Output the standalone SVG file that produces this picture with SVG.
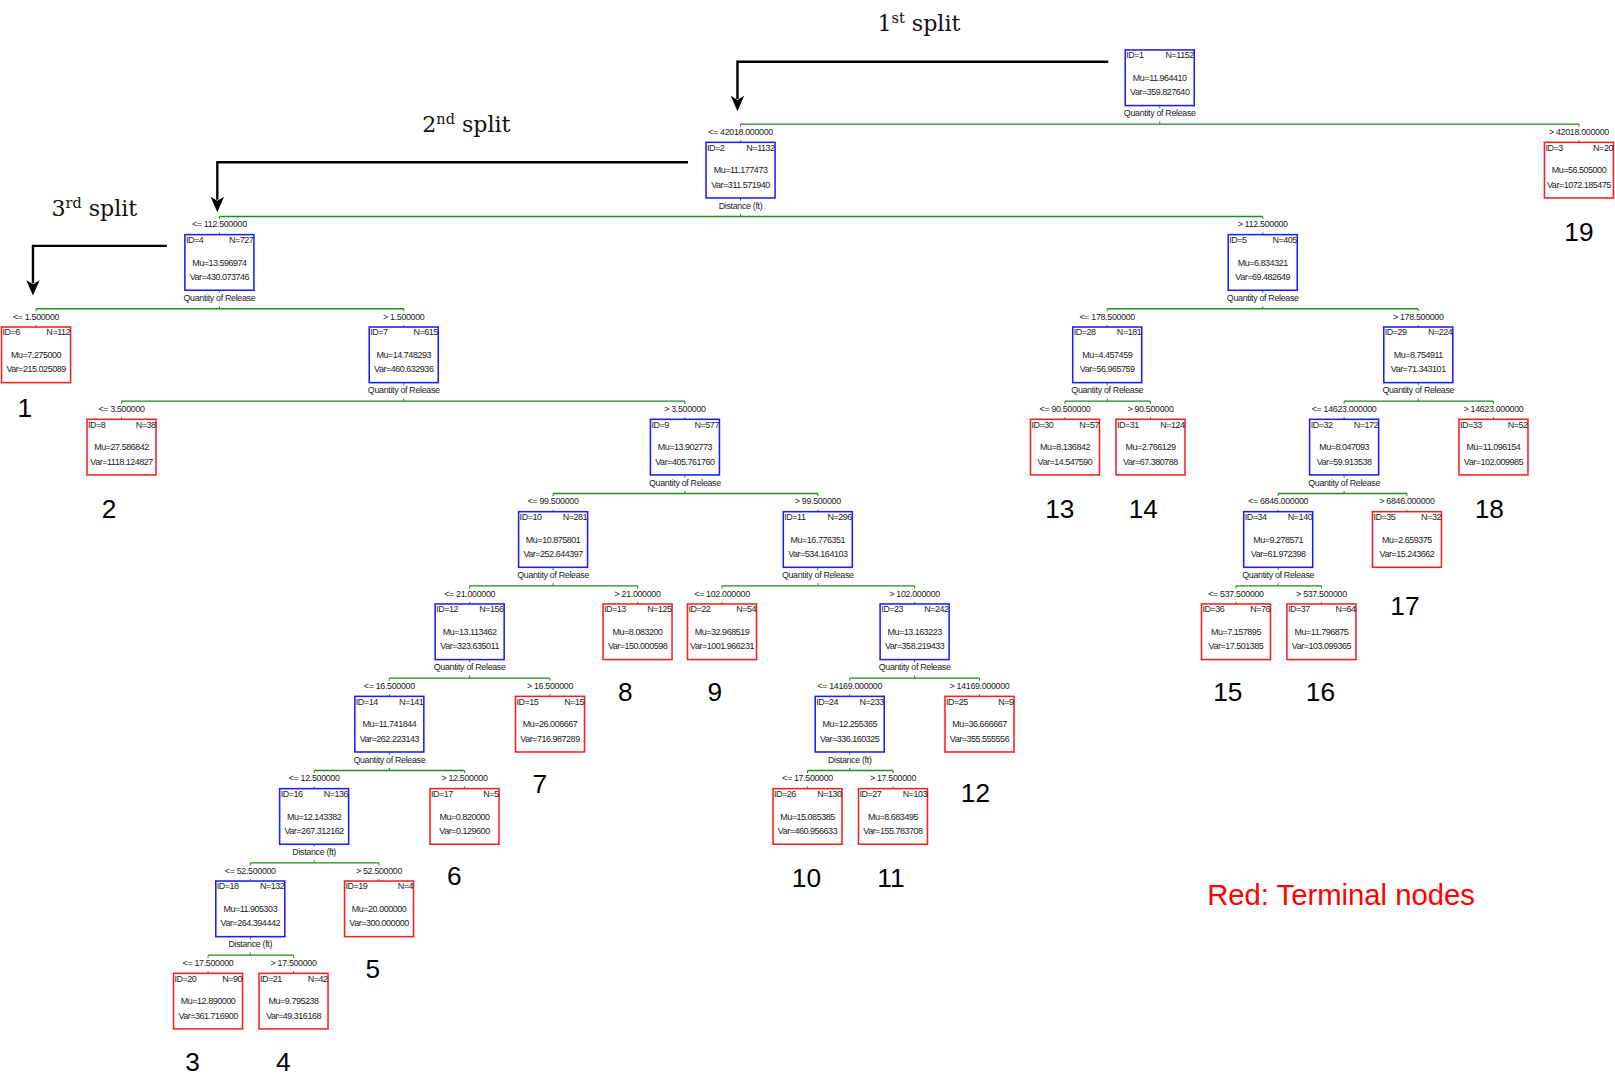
<svg xmlns="http://www.w3.org/2000/svg" width="1615" height="1074" viewBox="0 0 1615 1074">
<style>
  .bi { fill: #fff; stroke: #1c1cff; stroke-width: 1.5; }
  .bt { fill: #fff; stroke: #ff1c1c; stroke-width: 1.5; }
  text { font-family: "Liberation Sans", Arial, sans-serif; fill: #1a1a1a; }
  .t { font-size: 8.7px; letter-spacing: -0.45px; }
  .e { text-anchor: end; }
  .m { text-anchor: middle; }
  .sv { font-size: 8.6px; letter-spacing: -0.3px; text-anchor: middle; }
  .cond { font-size: 8.6px; letter-spacing: -0.3px; text-anchor: middle; }
  .edge { stroke: #1e8c1e; stroke-width: 1.3; fill: none; }
  .tick { stroke: #1e8c1e; stroke-width: 1; fill: none; }
  .arr { stroke: #000; stroke-width: 2.3; fill: none; }
  .head { fill: #000; stroke: none; }
  .split { font-family: "DejaVu Serif", "Liberation Serif", serif; font-size: 21.5px; fill: #111; }
  .sup { font-size: 14px; }
  .num { font-size: 25.5px; text-anchor: middle; fill: #000; }
  .legend { font-size: 28.4px; fill: #ff0000; }
</style>
<defs>
  <path id="ahead" d="M0,0 L-6.5,-15 L0,-11 L6.5,-15 Z"/>
</defs>
<g transform="scale(1.029974)">

<!-- split annotations -->
<g id="annotations">
  <text class="split" x="852" y="30"><tspan>1</tspan><tspan class="sup" dy="-8">st</tspan><tspan dy="8"> split</tspan></text>
  <path class="arr" d="M1076,60 H716 V96"/>
  <use href="#ahead" class="head" x="716" y="108"/>
  <text class="split" x="410" y="128"><tspan>2</tspan><tspan class="sup" dy="-8">nd</tspan><tspan dy="8"> split</tspan></text>
  <path class="arr" d="M668,157.5 H211 V194"/>
  <use href="#ahead" class="head" x="211" y="206"/>
  <text class="split" x="50" y="209.5"><tspan>3</tspan><tspan class="sup" dy="-8">rd</tspan><tspan dy="8"> split</tspan></text>
  <path class="arr" d="M162,238.7 H32 V275"/>
  <use href="#ahead" class="head" x="32" y="287"/>
</g>

<!-- tree connectors -->
<g id="connectors">
  <path class="edge" d="M719,120.5 H1533 M213,210.2 H1226 M35,299.8 H392 M1075,299.8 H1377 M118,389.5 H665 M1034,389.5 H1117 M1305,389.5 H1450 M537,479.1 H794 M1241,479.1 H1366 M456,568.8 H619 M701,568.8 H888 M1200,568.8 H1283 M378,658.4 H534 M825,658.4 H951 M305,748.1 H451 M784,748.1 H867 M243,837.7 H368 M202,927.4 H285"/>
  <path class="tick" d="
    M1126,102.5 v2.5 M1126,120.5 v-2.5 M719,120.5 v2.5 M1533,120.5 v2.5 M719,138.2 v-2 M1533,138.2 v-2
    M719,192.2 v2.5 M719,210.2 v-2.5 M213,210.2 v2.5 M1226,210.2 v2.5 M213,227.8 v-2 M1226,227.8 v-2
    M213,281.8 v2.5 M213,299.8 v-2.5 M35,299.8 v2.5 M392,299.8 v2.5 M35,317.5 v-2 M392,317.5 v-2
    M1226,281.8 v2.5 M1226,299.8 v-2.5 M1075,299.8 v2.5 M1377,299.8 v2.5 M1075,317.5 v-2 M1377,317.5 v-2
    M392,371.5 v2.5 M392,389.5 v-2.5 M118,389.5 v2.5 M665,389.5 v2.5 M118,407.1 v-2 M665,407.1 v-2
    M1075,371.5 v2.5 M1075,389.5 v-2.5 M1034,389.5 v2.5 M1117,389.5 v2.5 M1034,407.1 v-2 M1117,407.1 v-2
    M1377,371.5 v2.5 M1377,389.5 v-2.5 M1305,389.5 v2.5 M1450,389.5 v2.5 M1305,407.1 v-2 M1450,407.1 v-2
    M665,461.1 v2.5 M665,479.1 v-2.5 M537,479.1 v2.5 M794,479.1 v2.5 M537,496.8 v-2 M794,496.8 v-2
    M1305,461.1 v2.5 M1305,479.1 v-2.5 M1241,479.1 v2.5 M1366,479.1 v2.5 M1241,496.8 v-2 M1366,496.8 v-2
    M537,550.8 v2.5 M537,568.8 v-2.5 M456,568.8 v2.5 M619,568.8 v2.5 M456,586.4 v-2 M619,586.4 v-2
    M794,550.8 v2.5 M794,568.8 v-2.5 M701,568.8 v2.5 M888,568.8 v2.5 M701,586.4 v-2 M888,586.4 v-2
    M1241,550.8 v2.5 M1241,568.8 v-2.5 M1200,568.8 v2.5 M1283,568.8 v2.5 M1200,586.4 v-2 M1283,586.4 v-2
    M456,640.4 v2.5 M456,658.4 v-2.5 M378,658.4 v2.5 M534,658.4 v2.5 M378,676.1 v-2 M534,676.1 v-2
    M888,640.4 v2.5 M888,658.4 v-2.5 M825,658.4 v2.5 M951,658.4 v2.5 M825,676.1 v-2 M951,676.1 v-2
    M378,730.1 v2.5 M378,748.1 v-2.5 M305,748.1 v2.5 M451,748.1 v2.5 M305,765.7 v-2 M451,765.7 v-2
    M825,730.1 v2.5 M825,748.1 v-2.5 M784,748.1 v2.5 M867,748.1 v2.5 M784,765.7 v-2 M867,765.7 v-2
    M305,819.7 v2.5 M305,837.7 v-2.5 M243,837.7 v2.5 M368,837.7 v2.5 M243,855.4 v-2 M368,855.4 v-2
    M243,909.4 v2.5 M243,927.4 v-2.5 M202,927.4 v2.5 M285,927.4 v2.5 M202,945 v-2 M285,945 v-2"/>
</g>

<!-- nodes: each group is translated to the box's top-left corner -->
<g id="node-1" transform="translate(1092.5,48.5)">
  <rect class="bi" width="67" height="54"/>
  <text class="t" x="1" y="8">ID=1</text><text class="t e" x="66.5" y="8">N=1152</text>
  <text class="t m" x="33.5" y="30">Mu=11.964410</text><text class="t m" x="33.5" y="44">Var=359.827640</text>
  <text class="sv" x="33.5" y="64.5">Quantity of Release</text>
</g>
<g id="node-2" transform="translate(685.5,138.2)">
  <text class="cond" x="33.5" y="-7">&lt;= 42018.000000</text>
  <rect class="bi" width="67" height="54"/>
  <text class="t" x="1" y="8">ID=2</text><text class="t e" x="66.5" y="8">N=1132</text>
  <text class="t m" x="33.5" y="30">Mu=11.177473</text><text class="t m" x="33.5" y="44">Var=311.571940</text>
  <text class="sv" x="33.5" y="64.5">Distance (ft)</text>
</g>
<g id="node-3" transform="translate(1499.5,138.2)">
  <text class="cond" x="33.5" y="-7">&gt; 42018.000000</text>
  <rect class="bt" width="67" height="54"/>
  <text class="t" x="1" y="8">ID=3</text><text class="t e" x="66.5" y="8">N=20</text>
  <text class="t m" x="33.5" y="30">Mu=56.505000</text><text class="t m" x="33.5" y="44">Var=1072.185475</text>
</g>
<g id="node-4" transform="translate(179.5,227.8)">
  <text class="cond" x="33.5" y="-7">&lt;= 112.500000</text>
  <rect class="bi" width="67" height="54"/>
  <text class="t" x="1" y="8">ID=4</text><text class="t e" x="66.5" y="8">N=727</text>
  <text class="t m" x="33.5" y="30">Mu=13.596974</text><text class="t m" x="33.5" y="44">Var=430.073746</text>
  <text class="sv" x="33.5" y="64.5">Quantity of Release</text>
</g>
<g id="node-5" transform="translate(1192.5,227.8)">
  <text class="cond" x="33.5" y="-7">&gt; 112.500000</text>
  <rect class="bi" width="67" height="54"/>
  <text class="t" x="1" y="8">ID=5</text><text class="t e" x="66.5" y="8">N=405</text>
  <text class="t m" x="33.5" y="30">Mu=6.834321</text><text class="t m" x="33.5" y="44">Var=69.482649</text>
  <text class="sv" x="33.5" y="64.5">Quantity of Release</text>
</g>
<g id="node-6" transform="translate(1.5,317.5)">
  <text class="cond" x="33.5" y="-7">&lt;= 1.500000</text>
  <rect class="bt" width="67" height="54"/>
  <text class="t" x="1" y="8">ID=6</text><text class="t e" x="66.5" y="8">N=112</text>
  <text class="t m" x="33.5" y="30">Mu=7.275000</text><text class="t m" x="33.5" y="44">Var=215.025089</text>
</g>
<g id="node-7" transform="translate(358.5,317.5)">
  <text class="cond" x="33.5" y="-7">&gt; 1.500000</text>
  <rect class="bi" width="67" height="54"/>
  <text class="t" x="1" y="8">ID=7</text><text class="t e" x="66.5" y="8">N=615</text>
  <text class="t m" x="33.5" y="30">Mu=14.748293</text><text class="t m" x="33.5" y="44">Var=460.632936</text>
  <text class="sv" x="33.5" y="64.5">Quantity of Release</text>
</g>
<g id="node-28" transform="translate(1041.5,317.5)">
  <text class="cond" x="33.5" y="-7">&lt;= 178.500000</text>
  <rect class="bi" width="67" height="54"/>
  <text class="t" x="1" y="8">ID=28</text><text class="t e" x="66.5" y="8">N=181</text>
  <text class="t m" x="33.5" y="30">Mu=4.457459</text><text class="t m" x="33.5" y="44">Var=56.965759</text>
  <text class="sv" x="33.5" y="64.5">Quantity of Release</text>
</g>
<g id="node-29" transform="translate(1343.5,317.5)">
  <text class="cond" x="33.5" y="-7">&gt; 178.500000</text>
  <rect class="bi" width="67" height="54"/>
  <text class="t" x="1" y="8">ID=29</text><text class="t e" x="66.5" y="8">N=224</text>
  <text class="t m" x="33.5" y="30">Mu=8.754911</text><text class="t m" x="33.5" y="44">Var=71.343101</text>
  <text class="sv" x="33.5" y="64.5">Quantity of Release</text>
</g>
<g id="node-8" transform="translate(84.5,407.1)">
  <text class="cond" x="33.5" y="-7">&lt;= 3.500000</text>
  <rect class="bt" width="67" height="54"/>
  <text class="t" x="1" y="8">ID=8</text><text class="t e" x="66.5" y="8">N=38</text>
  <text class="t m" x="33.5" y="30">Mu=27.586842</text><text class="t m" x="33.5" y="44">Var=1118.124827</text>
</g>
<g id="node-9" transform="translate(631.5,407.1)">
  <text class="cond" x="33.5" y="-7">&gt; 3.500000</text>
  <rect class="bi" width="67" height="54"/>
  <text class="t" x="1" y="8">ID=9</text><text class="t e" x="66.5" y="8">N=577</text>
  <text class="t m" x="33.5" y="30">Mu=13.902773</text><text class="t m" x="33.5" y="44">Var=405.761760</text>
  <text class="sv" x="33.5" y="64.5">Quantity of Release</text>
</g>
<g id="node-30" transform="translate(1000.5,407.1)">
  <text class="cond" x="33.5" y="-7">&lt;= 90.500000</text>
  <rect class="bt" width="67" height="54"/>
  <text class="t" x="1" y="8">ID=30</text><text class="t e" x="66.5" y="8">N=57</text>
  <text class="t m" x="33.5" y="30">Mu=8.136842</text><text class="t m" x="33.5" y="44">Var=14.547590</text>
</g>
<g id="node-31" transform="translate(1083.5,407.1)">
  <text class="cond" x="33.5" y="-7">&gt; 90.500000</text>
  <rect class="bt" width="67" height="54"/>
  <text class="t" x="1" y="8">ID=31</text><text class="t e" x="66.5" y="8">N=124</text>
  <text class="t m" x="33.5" y="30">Mu=2.766129</text><text class="t m" x="33.5" y="44">Var=67.380788</text>
</g>
<g id="node-32" transform="translate(1271.5,407.1)">
  <text class="cond" x="33.5" y="-7">&lt;= 14623.000000</text>
  <rect class="bi" width="67" height="54"/>
  <text class="t" x="1" y="8">ID=32</text><text class="t e" x="66.5" y="8">N=172</text>
  <text class="t m" x="33.5" y="30">Mu=8.047093</text><text class="t m" x="33.5" y="44">Var=59.913538</text>
  <text class="sv" x="33.5" y="64.5">Quantity of Release</text>
</g>
<g id="node-33" transform="translate(1416.5,407.1)">
  <text class="cond" x="33.5" y="-7">&gt; 14623.000000</text>
  <rect class="bt" width="67" height="54"/>
  <text class="t" x="1" y="8">ID=33</text><text class="t e" x="66.5" y="8">N=52</text>
  <text class="t m" x="33.5" y="30">Mu=11.096154</text><text class="t m" x="33.5" y="44">Var=102.009985</text>
</g>
<g id="node-10" transform="translate(503.5,496.8)">
  <text class="cond" x="33.5" y="-7">&lt;= 99.500000</text>
  <rect class="bi" width="67" height="54"/>
  <text class="t" x="1" y="8">ID=10</text><text class="t e" x="66.5" y="8">N=281</text>
  <text class="t m" x="33.5" y="30">Mu=10.875801</text><text class="t m" x="33.5" y="44">Var=252.644397</text>
  <text class="sv" x="33.5" y="64.5">Quantity of Release</text>
</g>
<g id="node-11" transform="translate(760.5,496.8)">
  <text class="cond" x="33.5" y="-7">&gt; 99.500000</text>
  <rect class="bi" width="67" height="54"/>
  <text class="t" x="1" y="8">ID=11</text><text class="t e" x="66.5" y="8">N=296</text>
  <text class="t m" x="33.5" y="30">Mu=16.776351</text><text class="t m" x="33.5" y="44">Var=534.164103</text>
  <text class="sv" x="33.5" y="64.5">Quantity of Release</text>
</g>
<g id="node-34" transform="translate(1207.5,496.8)">
  <text class="cond" x="33.5" y="-7">&lt;= 6846.000000</text>
  <rect class="bi" width="67" height="54"/>
  <text class="t" x="1" y="8">ID=34</text><text class="t e" x="66.5" y="8">N=140</text>
  <text class="t m" x="33.5" y="30">Mu=9.278571</text><text class="t m" x="33.5" y="44">Var=61.972398</text>
  <text class="sv" x="33.5" y="64.5">Quantity of Release</text>
</g>
<g id="node-35" transform="translate(1332.5,496.8)">
  <text class="cond" x="33.5" y="-7">&gt; 6846.000000</text>
  <rect class="bt" width="67" height="54"/>
  <text class="t" x="1" y="8">ID=35</text><text class="t e" x="66.5" y="8">N=32</text>
  <text class="t m" x="33.5" y="30">Mu=2.659375</text><text class="t m" x="33.5" y="44">Var=15.243662</text>
</g>
<g id="node-12" transform="translate(422.5,586.4)">
  <text class="cond" x="33.5" y="-7">&lt;= 21.000000</text>
  <rect class="bi" width="67" height="54"/>
  <text class="t" x="1" y="8">ID=12</text><text class="t e" x="66.5" y="8">N=156</text>
  <text class="t m" x="33.5" y="30">Mu=13.113462</text><text class="t m" x="33.5" y="44">Var=323.635011</text>
  <text class="sv" x="33.5" y="64.5">Quantity of Release</text>
</g>
<g id="node-13" transform="translate(585.5,586.4)">
  <text class="cond" x="33.5" y="-7">&gt; 21.000000</text>
  <rect class="bt" width="67" height="54"/>
  <text class="t" x="1" y="8">ID=13</text><text class="t e" x="66.5" y="8">N=125</text>
  <text class="t m" x="33.5" y="30">Mu=8.083200</text><text class="t m" x="33.5" y="44">Var=150.000598</text>
</g>
<g id="node-22" transform="translate(667.5,586.4)">
  <text class="cond" x="33.5" y="-7">&lt;= 102.000000</text>
  <rect class="bt" width="67" height="54"/>
  <text class="t" x="1" y="8">ID=22</text><text class="t e" x="66.5" y="8">N=54</text>
  <text class="t m" x="33.5" y="30">Mu=32.968519</text><text class="t m" x="33.5" y="44">Var=1001.966231</text>
</g>
<g id="node-23" transform="translate(854.5,586.4)">
  <text class="cond" x="33.5" y="-7">&gt; 102.000000</text>
  <rect class="bi" width="67" height="54"/>
  <text class="t" x="1" y="8">ID=23</text><text class="t e" x="66.5" y="8">N=242</text>
  <text class="t m" x="33.5" y="30">Mu=13.163223</text><text class="t m" x="33.5" y="44">Var=358.219433</text>
  <text class="sv" x="33.5" y="64.5">Quantity of Release</text>
</g>
<g id="node-36" transform="translate(1166.5,586.4)">
  <text class="cond" x="33.5" y="-7">&lt;= 537.500000</text>
  <rect class="bt" width="67" height="54"/>
  <text class="t" x="1" y="8">ID=36</text><text class="t e" x="66.5" y="8">N=76</text>
  <text class="t m" x="33.5" y="30">Mu=7.157895</text><text class="t m" x="33.5" y="44">Var=17.501385</text>
</g>
<g id="node-37" transform="translate(1249.5,586.4)">
  <text class="cond" x="33.5" y="-7">&gt; 537.500000</text>
  <rect class="bt" width="67" height="54"/>
  <text class="t" x="1" y="8">ID=37</text><text class="t e" x="66.5" y="8">N=64</text>
  <text class="t m" x="33.5" y="30">Mu=11.796875</text><text class="t m" x="33.5" y="44">Var=103.099365</text>
</g>
<g id="node-14" transform="translate(344.5,676.1)">
  <text class="cond" x="33.5" y="-7">&lt;= 16.500000</text>
  <rect class="bi" width="67" height="54"/>
  <text class="t" x="1" y="8">ID=14</text><text class="t e" x="66.5" y="8">N=141</text>
  <text class="t m" x="33.5" y="30">Mu=11.741844</text><text class="t m" x="33.5" y="44">Var=262.223143</text>
  <text class="sv" x="33.5" y="64.5">Quantity of Release</text>
</g>
<g id="node-15" transform="translate(500.5,676.1)">
  <text class="cond" x="33.5" y="-7">&gt; 16.500000</text>
  <rect class="bt" width="67" height="54"/>
  <text class="t" x="1" y="8">ID=15</text><text class="t e" x="66.5" y="8">N=15</text>
  <text class="t m" x="33.5" y="30">Mu=26.006667</text><text class="t m" x="33.5" y="44">Var=716.987289</text>
</g>
<g id="node-24" transform="translate(791.5,676.1)">
  <text class="cond" x="33.5" y="-7">&lt;= 14169.000000</text>
  <rect class="bi" width="67" height="54"/>
  <text class="t" x="1" y="8">ID=24</text><text class="t e" x="66.5" y="8">N=233</text>
  <text class="t m" x="33.5" y="30">Mu=12.255365</text><text class="t m" x="33.5" y="44">Var=336.160325</text>
  <text class="sv" x="33.5" y="64.5">Distance (ft)</text>
</g>
<g id="node-25" transform="translate(917.5,676.1)">
  <text class="cond" x="33.5" y="-7">&gt; 14169.000000</text>
  <rect class="bt" width="67" height="54"/>
  <text class="t" x="1" y="8">ID=25</text><text class="t e" x="66.5" y="8">N=9</text>
  <text class="t m" x="33.5" y="30">Mu=36.666667</text><text class="t m" x="33.5" y="44">Var=355.555556</text>
</g>
<g id="node-16" transform="translate(271.5,765.7)">
  <text class="cond" x="33.5" y="-7">&lt;= 12.500000</text>
  <rect class="bi" width="67" height="54"/>
  <text class="t" x="1" y="8">ID=16</text><text class="t e" x="66.5" y="8">N=136</text>
  <text class="t m" x="33.5" y="30">Mu=12.143382</text><text class="t m" x="33.5" y="44">Var=267.312162</text>
  <text class="sv" x="33.5" y="64.5">Distance (ft)</text>
</g>
<g id="node-17" transform="translate(417.5,765.7)">
  <text class="cond" x="33.5" y="-7">&gt; 12.500000</text>
  <rect class="bt" width="67" height="54"/>
  <text class="t" x="1" y="8">ID=17</text><text class="t e" x="66.5" y="8">N=5</text>
  <text class="t m" x="33.5" y="30">Mu=0.820000</text><text class="t m" x="33.5" y="44">Var=0.129600</text>
</g>
<g id="node-26" transform="translate(750.5,765.7)">
  <text class="cond" x="33.5" y="-7">&lt;= 17.500000</text>
  <rect class="bt" width="67" height="54"/>
  <text class="t" x="1" y="8">ID=26</text><text class="t e" x="66.5" y="8">N=130</text>
  <text class="t m" x="33.5" y="30">Mu=15.085385</text><text class="t m" x="33.5" y="44">Var=460.956633</text>
</g>
<g id="node-27" transform="translate(833.5,765.7)">
  <text class="cond" x="33.5" y="-7">&gt; 17.500000</text>
  <rect class="bt" width="67" height="54"/>
  <text class="t" x="1" y="8">ID=27</text><text class="t e" x="66.5" y="8">N=103</text>
  <text class="t m" x="33.5" y="30">Mu=8.683495</text><text class="t m" x="33.5" y="44">Var=155.783708</text>
</g>
<g id="node-18" transform="translate(209.5,855.4)">
  <text class="cond" x="33.5" y="-7">&lt;= 52.500000</text>
  <rect class="bi" width="67" height="54"/>
  <text class="t" x="1" y="8">ID=18</text><text class="t e" x="66.5" y="8">N=132</text>
  <text class="t m" x="33.5" y="30">Mu=11.905303</text><text class="t m" x="33.5" y="44">Var=264.394442</text>
  <text class="sv" x="33.5" y="64.5">Distance (ft)</text>
</g>
<g id="node-19" transform="translate(334.5,855.4)">
  <text class="cond" x="33.5" y="-7">&gt; 52.500000</text>
  <rect class="bt" width="67" height="54"/>
  <text class="t" x="1" y="8">ID=19</text><text class="t e" x="66.5" y="8">N=4</text>
  <text class="t m" x="33.5" y="30">Mu=20.000000</text><text class="t m" x="33.5" y="44">Var=300.000000</text>
</g>
<g id="node-20" transform="translate(168.5,945)">
  <text class="cond" x="33.5" y="-7">&lt;= 17.500000</text>
  <rect class="bt" width="67" height="54"/>
  <text class="t" x="1" y="8">ID=20</text><text class="t e" x="66.5" y="8">N=90</text>
  <text class="t m" x="33.5" y="30">Mu=12.890000</text><text class="t m" x="33.5" y="44">Var=361.716900</text>
</g>
<g id="node-21" transform="translate(251.5,945)">
  <text class="cond" x="33.5" y="-7">&gt; 17.500000</text>
  <rect class="bt" width="67" height="54"/>
  <text class="t" x="1" y="8">ID=21</text><text class="t e" x="66.5" y="8">N=42</text>
  <text class="t m" x="33.5" y="30">Mu=9.795238</text><text class="t m" x="33.5" y="44">Var=49.316168</text>
</g>

<!-- terminal node numbering -->
<g id="terminal-numbers">
  <text class="num" x="24" y="405">1</text>
  <text class="num" x="106" y="503">2</text>
  <text class="num" x="187" y="1040">3</text>
  <text class="num" x="275" y="1040">4</text>
  <text class="num" x="362" y="950">5</text>
  <text class="num" x="441" y="859">6</text>
  <text class="num" x="524" y="770">7</text>
  <text class="num" x="607" y="681">8</text>
  <text class="num" x="694" y="681">9</text>
  <text class="num" x="783" y="861">10</text>
  <text class="num" x="865" y="861">11</text>
  <text class="num" x="947" y="779">12</text>
  <text class="num" x="1029" y="503">13</text>
  <text class="num" x="1110" y="503">14</text>
  <text class="num" x="1192" y="681">15</text>
  <text class="num" x="1282" y="681">16</text>
  <text class="num" x="1364" y="597">17</text>
  <text class="num" x="1446" y="503">18</text>
  <text class="num" x="1533" y="234">19</text>
</g>

<text class="legend" x="1172" y="878.7">Red: Terminal nodes</text>
</g>
</svg>
